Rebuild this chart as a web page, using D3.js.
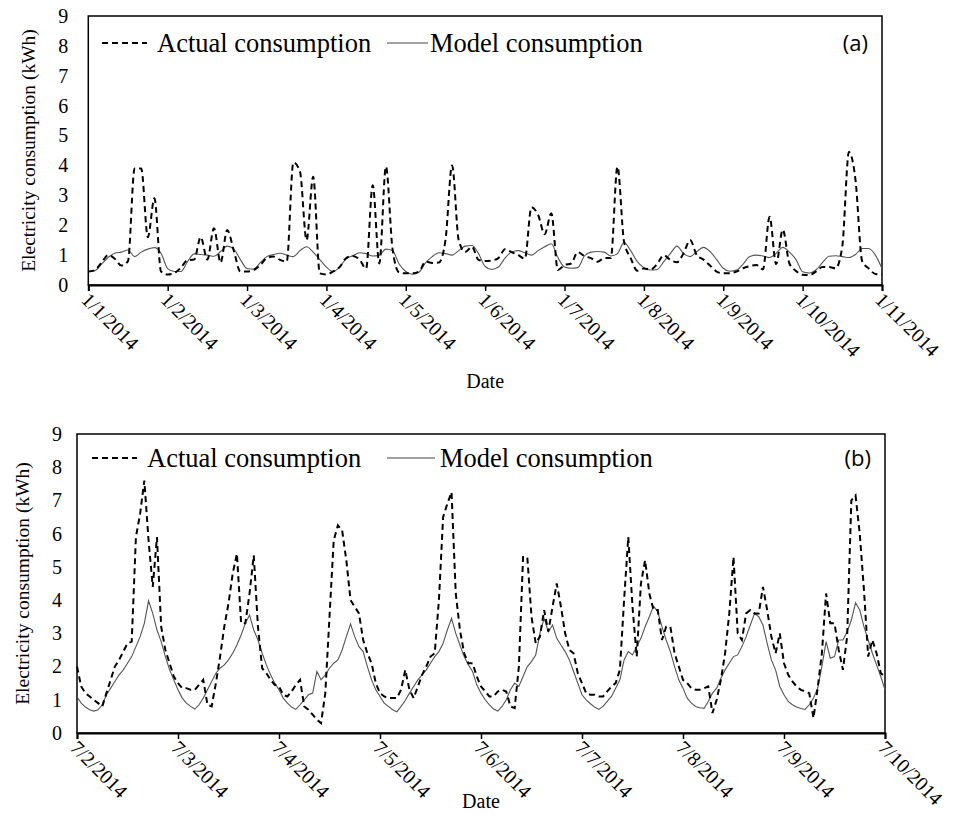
<!DOCTYPE html>
<html>
<head>
<meta charset="utf-8">
<script src="https://cdn.jsdelivr.net/npm/d3@7/dist/d3.min.js"></script>
<style>
  body { margin: 0; background: #fff; }
  text { font-family: "Liberation Serif", "Times New Roman", serif; fill: #000; }
  .tag { font-family: "Open Sans", "Noto Sans", sans-serif; }
</style>
</head>
<body>
<svg id="chart" width="958" height="825"></svg>
<script>
// ---- panel (a): 12 readings per month, 1/1/2014 .. 1/11/2014
const monthLabelsA = ["1/1/2014","1/2/2014","1/3/2014","1/4/2014","1/5/2014","1/6/2014",
  "1/7/2014","1/8/2014","1/9/2014","1/10/2014","1/11/2014"];
const perMonthA = 12;
const actualA = [0.45,0.5,0.75,1.0,0.88,0.65,0.8,3.9,3.9,1.6,2.9,0.45,
  0.35,0.4,0.58,0.83,0.85,1.6,0.85,1.9,0.75,1.84,1.15,0.45,
  0.45,0.5,0.67,0.9,0.95,0.84,0.78,4.1,3.8,1.5,3.62,0.39,
  0.35,0.45,0.6,0.9,0.97,0.85,0.55,3.34,0.72,3.96,1.2,0.42,
  0.39,0.39,0.45,0.78,0.74,0.75,1.5,4.0,1.5,1.1,1.28,0.84,
  0.8,0.82,0.9,1.2,1.1,1.0,0.88,2.6,2.35,1.7,2.4,0.5,
  0.67,0.72,1.1,0.97,0.9,0.78,0.9,0.9,3.96,1.45,0.9,0.48,
  0.55,0.52,0.7,1.0,0.84,0.76,1.06,1.5,1.0,0.85,0.65,0.45,
  0.39,0.39,0.45,0.56,0.63,0.67,0.52,2.28,0.7,1.85,0.72,0.47,
  0.34,0.33,0.45,0.6,0.6,0.56,1.3,4.45,3.5,0.8,0.55,0.37,
  0.35];
const modelA = [0.45,0.48,0.7,0.92,1.06,1.1,1.17,0.95,1.1,1.2,1.25,1.06,
  0.55,0.45,0.45,0.78,1.04,1.02,1.0,0.96,1.12,1.3,1.2,0.85,
  0.55,0.53,0.75,0.95,1.02,1.06,1.0,0.95,1.15,1.28,1.1,0.85,
  0.6,0.45,0.6,0.88,0.98,1.08,1.05,0.97,1.0,1.2,1.15,0.7,
  0.45,0.36,0.43,0.75,0.95,1.08,1.05,1.0,1.15,1.3,1.32,1.05,
  0.62,0.52,0.6,0.9,1.1,1.15,1.08,1.0,1.15,1.28,1.38,0.92,
  0.6,0.56,0.58,0.97,1.1,1.12,1.1,0.97,1.05,1.42,1.15,0.78,
  0.58,0.5,0.52,0.78,1.05,1.3,1.05,0.95,1.12,1.26,1.12,0.85,
  0.56,0.46,0.5,0.7,0.95,1.0,0.97,0.92,1.06,1.26,1.1,0.85,
  0.44,0.4,0.5,0.75,0.96,0.98,0.95,0.92,1.02,1.22,1.22,1.0,
  0.55];

// ---- panel (b): hourly readings, 7/2/2014 .. 7/10/2014
const dayLabelsB = ["7/2/2014","7/3/2014","7/4/2014","7/5/2014","7/6/2014",
  "7/7/2014","7/8/2014","7/9/2014","7/10/2014"];
const perDayB = 24;
const actualB = [
  2.0,1.4,1.2,1.1,1.0,0.9,0.8,1.2,1.6,2.0,2.2,2.45,2.7,2.75,5.9,6.6,7.6,5.8,4.4,5.9,3.2,2.5,2.1,1.7,
  1.5,1.35,1.35,1.3,1.3,1.45,1.6,0.85,0.8,1.5,2.3,3.2,3.9,4.8,5.4,3.3,3.3,4.2,5.35,3.2,1.95,1.8,1.6,1.45,
  1.4,1.15,1.1,1.25,1.45,1.6,0.8,0.7,0.55,0.4,0.3,1.2,3.5,5.8,6.25,6.1,5.2,4.0,3.8,3.6,2.8,2.4,2.1,1.5,
  1.2,1.1,1.05,1.05,1.05,1.3,1.9,1.3,1.05,1.4,1.75,2.0,2.3,2.4,4.0,6.5,6.9,7.25,4.2,3.1,2.4,2.1,2.1,1.7,
  1.4,1.25,1.1,1.1,1.25,1.3,1.25,0.8,0.75,2.0,5.3,5.3,3.5,2.7,2.9,3.7,3.05,3.8,4.5,3.8,3.0,2.5,2.4,1.8,
  1.5,1.2,1.15,1.15,1.1,1.1,1.25,1.4,1.5,1.9,4.0,5.9,3.8,2.3,4.5,5.2,4.2,3.7,3.7,2.8,3.2,3.2,2.4,2.0,
  1.6,1.5,1.35,1.3,1.3,1.35,1.4,0.6,1.0,1.6,2.4,3.6,5.3,3.0,2.8,3.6,3.7,3.6,3.6,4.4,3.7,2.9,2.4,3.0,
  2.1,1.75,1.55,1.4,1.3,1.25,1.2,0.45,1.35,2.4,4.2,3.3,3.3,2.5,1.9,2.9,7.0,7.15,6.0,4.3,2.3,2.8,2.4,1.8,
  1.7];
const modelB = [
  1.09,0.9,0.78,0.7,0.66,0.7,0.85,1.15,1.35,1.55,1.75,1.9,2.1,2.3,2.6,2.9,3.3,3.98,3.6,3.1,2.75,2.3,1.9,1.6,
  1.3,1.05,0.9,0.8,0.72,0.85,1.05,1.3,1.55,1.8,1.95,2.05,2.2,2.4,2.65,2.95,3.3,3.55,3.1,2.8,2.4,2.05,1.75,1.5,
  1.3,1.05,0.9,0.78,0.71,0.85,1.0,1.15,1.2,1.85,1.6,1.75,1.95,2.1,2.2,2.5,2.9,3.28,2.9,2.6,2.45,2.0,1.6,1.3,
  1.1,0.9,0.8,0.7,0.64,0.8,0.98,1.2,1.4,1.6,1.75,1.9,2.1,2.3,2.45,2.7,3.1,3.45,3.0,2.65,2.3,2.05,1.85,1.45,
  1.2,1.0,0.85,0.72,0.66,0.8,1.0,1.3,1.5,1.4,1.7,2.0,2.15,2.35,3.0,3.45,3.05,3.25,2.85,2.65,2.45,2.2,1.85,1.5,
  1.15,1.0,0.88,0.78,0.71,0.8,0.95,1.1,1.35,1.6,2.2,2.45,2.35,2.6,2.85,3.2,3.5,3.82,3.65,3.2,2.8,2.45,2.0,1.6,
  1.35,1.05,0.9,0.8,0.76,0.74,0.95,1.2,1.35,1.65,1.9,2.1,2.3,2.35,2.6,2.9,3.25,3.6,3.5,3.25,2.7,2.2,1.9,1.4,
  1.15,0.95,0.85,0.78,0.74,0.71,0.85,1.05,1.35,2.0,2.75,2.25,2.3,2.8,2.8,3.05,3.4,3.92,3.7,3.2,2.8,2.4,2.05,1.7,
  1.3];

const yTicks = [0,1,2,3,4,5,6,7,8,9];
const seriesNames = ["Actual consumption", "Model consumption"];

const svg = d3.select("#chart");
svg.append("rect").attr("width", 958).attr("height", 825).attr("fill", "#fff");

function drawPanel(p) {
  const g = svg.append("g");
  const n = p.labels.length - 1;
  const x = d3.scaleLinear().domain([0, n * p.per]).range([p.left, p.right]);
  const y = d3.scaleLinear().domain([0, 9]).range([p.bottom, p.top]);

  // frame
  g.append("rect")
    .attr("x", p.left).attr("y", p.top)
    .attr("width", p.right - p.left).attr("height", p.bottom - p.top)
    .attr("fill", "none").attr("stroke", "#000").attr("stroke-width", 1.5);

  // x axis with outward ticks, rotated labels
  const xAxis = d3.axisBottom(x)
    .tickValues(d3.range(0, n + 1).map(i => i * p.per))
    .tickSize(6).tickFormat("");
  const ax = g.append("g").attr("transform", "translate(0," + p.bottom + ")").call(xAxis);
  ax.select(".domain").attr("stroke", "#000").attr("stroke-width", 2);
  ax.selectAll(".tick line").attr("stroke", "#000").attr("stroke-width", 1.5);

  g.selectAll(".xlab").data(p.labels).enter()
    .append("text")
    .attr("class", "xlab")
    .attr("transform", (d, i) => "translate(" + (x(i * p.per) - 3) + "," + (p.bottom + 11) + ") rotate(45)")
    .attr("dy", "0.35em")
    .style("font-size", "20px")
    .text(d => d);

  // y labels (no tick marks)
  const yAxis = d3.axisLeft(y).tickValues(yTicks).tickSize(0).tickPadding(p.ypad);
  const ay = g.append("g").attr("transform", "translate(" + p.left + ",0)").call(yAxis);
  ay.select(".domain").remove();
  ay.selectAll("text")
    .style("font-family", "'Liberation Serif', serif")
    .style("font-size", "20px").attr("fill", "#000");

  g.append("text")
    .attr("transform", "translate(" + p.ylabX + "," + ((p.top + p.bottom) / 2) + ") rotate(-90)")
    .attr("text-anchor", "middle").attr("dy", "0.35em")
    .style("font-size", "19.5px")
    .text("Electricity consumption (kWh)");

  g.append("text")
    .attr("x", (p.left + p.right) / 2).attr("y", p.dateY)
    .attr("text-anchor", "middle")
    .style("font-size", "20px")
    .text("Date");

  // lines
  const line = d3.line()
    .x((d, i) => x(i)).y(d => y(d))
    .curve(p.curve);
  g.append("path").datum(p.model)
    .attr("d", line).attr("fill", "none")
    .attr("stroke", "#555").attr("stroke-width", 1.1);
  g.append("path").datum(p.actual)
    .attr("d", line).attr("fill", "none")
    .attr("stroke", "#000").attr("stroke-width", 2)
    .attr("stroke-dasharray", "6,4");

  // legend
  const ly = p.legY;
  g.append("line")
    .attr("x1", p.leg[0]).attr("x2", p.leg[1]).attr("y1", ly).attr("y2", ly)
    .attr("stroke", "#000").attr("stroke-width", 2).attr("stroke-dasharray", "6,4");
  g.append("text").attr("x", p.leg[2]).attr("y", ly).attr("dy", "0.33em")
    .style("font-size", "26.5px").text(seriesNames[0]);
  g.append("line")
    .attr("x1", p.leg[3]).attr("x2", p.leg[4]).attr("y1", ly).attr("y2", ly)
    .attr("stroke", "#444").attr("stroke-width", 1.1);
  g.append("text").attr("x", p.leg[5]).attr("y", ly).attr("dy", "0.33em")
    .style("font-size", "26.5px").text(seriesNames[1]);

  g.append("text").attr("class", "tag")
    .attr("x", p.right - 14).attr("y", ly).attr("dy", "0.35em")
    .attr("text-anchor", "end")
    .style("font-size", "22px").text(p.tag);
}

drawPanel({
  labels: monthLabelsA, per: perMonthA, actual: actualA, model: modelA,
  left: 88.3, right: 882, top: 16, bottom: 285,
  ypad: 20, ylabX: 28, dateY: 388, legY: 43,
  leg: [102, 147, 157, 387, 428, 430], tag: "(a)",
  curve: d3.curveMonotoneX
});

drawPanel({
  labels: dayLabelsB, per: perDayB, actual: actualB, model: modelB,
  left: 77, right: 885, top: 434, bottom: 733,
  ypad: 15, ylabX: 22, dateY: 808, legY: 458,
  leg: [92, 137, 147, 387, 435, 440], tag: "(b)",
  curve: d3.curveLinear
});
</script>
</body>
</html>
